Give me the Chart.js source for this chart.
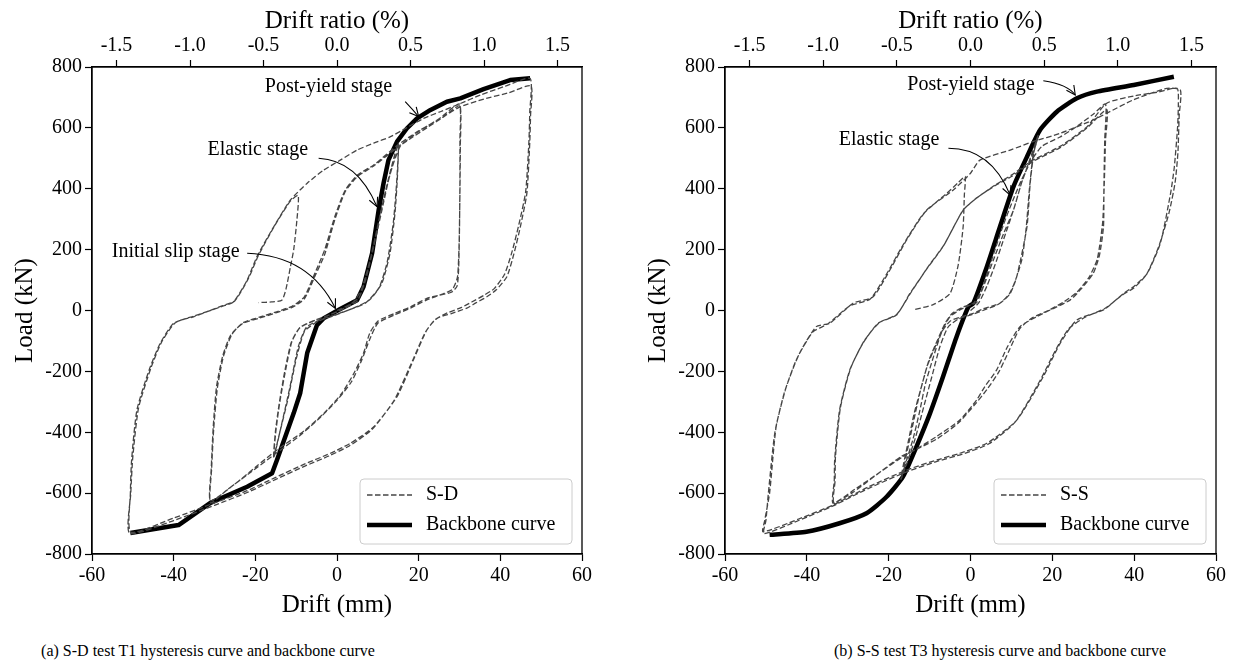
<!DOCTYPE html>
<html>
<head>
<meta charset="utf-8">
<title>Hysteresis and backbone curves</title>
<script src="https://cdn.jsdelivr.net/npm/chart.js@4.4.1/dist/chart.umd.min.js"></script>
<style>
  html, body { margin: 0; padding: 0; background: #fff; overflow: hidden; }
  #fig { position: relative; width: 1235px; height: 666px; }
  .panel { position: absolute; top: 0; }
  .caption { position: absolute; top: 642px; line-height: 18px; font-size: 16px;
             font-family: 'Liberation Serif', 'Times New Roman', serif;
             white-space: nowrap; transform: translateX(-50%); }
</style>
</head>
<body>
<div id="fig">
  <canvas id="chart-sd" class="panel" width="617" height="625" style="left:0px"></canvas>
  <canvas id="chart-ss" class="panel" width="602" height="625" style="left:633px"></canvas>
  <div class="caption" style="left:208px">(a) S-D test T1 hysteresis curve and backbone curve</div>
  <div class="caption" style="left:1000px">(b) S-S test T3 hysteresis curve and backbone curve</div>
</div>
<script>
// axis ticks
const driftTicks = [-60, -40, -20, 0, 20, 40, 60];
const loadTicks = [-800, -600, -400, -200, 0, 200, 400, 600, 800];
const ratioTicks = [-1.5, -1.0, -0.5, 0.0, 0.5, 1.0, 1.5];
const storyHeight = 3600; // mm, drift ratio = drift / height

// S-D test T1: [drift (mm), load (kN)] in loading order
const sdHysteresis = [
  // first push to +15 mm
  [0, 0], [2, 12], [4, 28], [6, 70], [8, 160], [10, 280], [12, 400], [13.5, 480], [15, 550],
  // +15 -> -15.5
  [14.8, 440], [14.2, 320], [13, 190], [11, 90], [8, 35], [4, 8], [0, -12], [-4, -30], [-7.5, -55],
  [-9.5, -120], [-11.5, -250], [-13.5, -370], [-15.5, -485],
  // -15.5 -> +15
  [-15, -400], [-14, -300], [-12.5, -190], [-11, -100], [-9, -55], [-6, -35], [-2, -15], [2, 8], [5, 32],
  [7, 100], [9, 210], [11, 330], [13, 450], [15, 545],
  // +15 -> -15.5
  [14.6, 420], [13.8, 290], [12.3, 160], [10.3, 75], [7, 25], [3, 2], [-1, -18], [-5, -38], [-8, -70],
  [-10, -160], [-12, -290], [-14, -400], [-15.5, -478],
  // -15.5 -> +30
  [-15.1, -400], [-14.2, -310], [-12.8, -200], [-11.2, -105], [-9.2, -58], [-5, -30], [0, -5], [3, 18],
  [5.5, 45], [7.5, 130], [9.5, 250], [11.5, 370], [13.5, 470], [15.5, 540], [18, 565], [22, 600],
  [26, 635], [30, 672],
  // +30 -> -31
  [30.1, 560], [30.1, 420], [30, 270], [29.8, 140], [29.4, 80], [28, 60], [25, 50], [22, 40], [18, 12],
  [14, -10], [10, -35], [8, -75], [6.5, -140], [4, -210], [1, -275], [-3, -335], [-8, -395],
  [-14.7, -458], [-20, -515], [-25, -570], [-31, -625],
  // -31 -> +30
  [-30.8, -520], [-30.3, -380], [-29.5, -250], [-28, -150], [-26, -80], [-23, -42], [-19, -25],
  [-15, -8], [-11, 10], [-8, 38], [-5.5, 110], [-3, 185], [-0.5, 300], [2, 390], [5, 440], [9, 475],
  [15, 538], [20, 588], [25, 630], [30, 678],
  // +30 -> -31
  [30.2, 540], [30.1, 380], [29.9, 220], [29.5, 110], [28.3, 70], [26, 55], [22, 35], [18, 8], [14, -15],
  [10, -42], [8, -95], [6, -165], [3.5, -235], [0, -295], [-4, -350], [-9, -410], [-15, -470],
  [-22, -540], [-27, -590], [-31, -632],
  // -31 -> +47.5
  [-30.7, -520], [-30.2, -390], [-29.3, -255], [-27.8, -150], [-25.7, -78], [-23, -40], [-19, -22],
  [-15, -5], [-11, 14], [-8, 45], [-5.5, 120], [-3, 200], [-0.5, 310], [2, 395], [5, 445], [9, 478],
  [15, 545], [20, 590], [25, 628], [30, 668], [36, 695], [42, 715], [47.5, 738],
  // +47.5 -> -50.5
  [47.4, 640], [47.2, 549], [46.5, 385], [44.9, 275], [43.3, 185], [41.6, 111], [39, 68], [36.7, 45],
  [34, 25], [31.8, 8], [28, -10], [24.5, -26], [22, -64], [18.7, -163], [14.7, -283], [9, -382],
  [3.3, -436], [-1.6, -469], [-8, -505], [-15, -548], [-22, -592], [-30, -632], [-40, -682], [-50.5, -728],
  // -50.5 -> +47.5
  [-50.6, -600], [-50.3, -491], [-49, -327], [-46, -195], [-43.3, -108], [-40, -42], [-35, -20],
  [-31.8, -4], [-28, 14], [-25.3, 29], [-22, 100], [-19.6, 177], [-15.5, 275], [-11.4, 363],
  [-7.3, 418], [-3.3, 461], [0.8, 494], [4.9, 527], [9, 550], [13.1, 571], [17, 600], [21.2, 631],
  [25.3, 653], [30.2, 680], [35.1, 708], [40.8, 735], [47.3, 762],
  // +47.5 -> -50.8
  [47.2, 650], [47, 555], [46.2, 390], [44.5, 280], [42.8, 190], [41, 118], [38.5, 72], [36, 50],
  [33, 28], [30.5, 10], [27, -8], [24, -30], [21.5, -75], [18, -180], [14, -295], [8.5, -392],
  [3, -445], [-2, -478], [-8, -512], [-15, -555], [-22, -598], [-30, -640], [-40, -690], [-50.8, -732],
  // -50.8 -> -9.5, then unloading
  [-50.5, -600], [-50, -480], [-48.6, -320], [-45.6, -190], [-43, -105], [-39.6, -40], [-35, -18],
  [-31.5, -2], [-28, 16], [-25, 32], [-21.7, 105], [-19.2, 182], [-15.2, 280], [-11.4, 360],
  [-9.5, 378], [-9.8, 300], [-10.6, 200], [-11.4, 144], [-12.5, 70], [-13.5, 34], [-16, 28], [-19.2, 26]
];

const sdBackbone = [
  [-50.6, -731], [-38.8, -705], [-31, -632], [-22, -579], [-15.9, -535], [-14.7, -491], [-10.6, -337],
  [-9, -271], [-7.3, -140], [-4.9, -48], [-3.3, -26], [0.8, 5], [4.9, 34], [6.5, 78], [8.6, 188],
  [10.2, 330], [11.4, 418], [12.6, 494], [14.7, 555], [17.1, 598], [19.6, 631], [22.9, 659],
  [26.9, 686], [30.2, 697], [35.9, 727], [42.4, 757], [47.3, 763]
];

// S-S test T3: [drift (mm), load (kN)] in loading order
const ssHysteresis = [
  // first push to +16.5 mm
  [0, 0], [2, 25], [4, 80], [6, 150], [8, 230], [10.5, 330], [12.5, 420], [14.6, 500], [16.5, 575],
  // +16.5 -> -16.8
  [15.5, 520], [14.6, 420], [13.8, 275], [11.3, 111], [9.7, 56], [7.2, 24], [3, 5], [0.7, -9],
  [-2.5, -22], [-5, -35], [-7, -70], [-9, -150], [-11, -240], [-12.4, -330], [-14, -420],
  [-15.6, -491], [-16.8, -546],
  // -16.8 -> +16.5
  [-16.3, -520], [-15.6, -470], [-14, -370], [-12.4, -272], [-10.5, -180], [-8.3, -108], [-6.5, -55],
  [-5, -20], [-2.6, 2], [0, 18], [1.5, 26], [3.5, 90], [5.6, 166], [8, 250], [10.5, 330], [12.5, 420],
  [14.6, 494], [16, 545], [16.5, 570],
  // +16.5 -> -17
  [15.3, 510], [14.4, 400], [13.6, 270], [12.6, 170], [11, 100], [9.5, 55], [7, 22], [4, 5], [0.7, -12],
  [-3, -28], [-5.5, -55], [-7.5, -120], [-9.5, -220], [-11.5, -320], [-13.5, -420], [-15.5, -500],
  [-17, -555],
  // -17 -> +33
  [-16.3, -500], [-15.2, -430], [-13.8, -340], [-12, -250], [-10.2, -165], [-8, -95], [-6.2, -42],
  [-4.5, -10], [-2, 10], [0.7, 24], [2.5, 60], [4, 120], [6, 200], [8, 280], [10, 350], [12.5, 430],
  [15, 495], [17.5, 540], [21.9, 570], [26, 605], [30, 645], [33, 678],
  // +33 -> -33.6
  [32.8, 560], [32.6, 400], [32.5, 275], [31.5, 180], [30, 122], [27, 70], [24.4, 35], [20, 5],
  [16.2, -20], [12.1, -53], [9, -120], [6.4, -195], [3.5, -250], [1.5, -294], [-2.6, -360],
  [-8.3, -414], [-12, -445], [-16.5, -480], [-22, -530], [-28, -585], [-33.6, -633],
  // -33.6 -> +33
  [-33.3, -560], [-33.2, -491], [-32, -327], [-29.5, -195], [-26.3, -108], [-22.6, -42], [-18.1, -15],
  [-14.8, 56], [-10.5, 140], [-6.7, 210], [-3.5, 290], [-1.8, 330], [1.5, 370], [6, 410], [10, 440],
  [15.3, 490], [21.9, 535], [28.5, 600], [33.3, 660],
  // +33 -> -33.4
  [33, 560], [32.7, 420], [32.3, 290], [31, 170], [29, 110], [26, 60], [23, 30], [19, 0], [15, -25],
  [12, -60], [9.5, -130], [7, -200], [4, -260], [1, -310], [-3, -370], [-8, -420], [-13, -455],
  [-17, -480], [-23, -540], [-29, -600], [-33.4, -630],
  // -33.4 -> +50.5
  [-33.1, -560], [-33, -480], [-31.8, -320], [-29.3, -190], [-26, -100], [-22.3, -40], [-18, -12],
  [-14.5, 60], [-10.3, 145], [-6.5, 215], [-3.3, 295], [-1.5, 335], [1.8, 372], [6, 412], [10, 445],
  [15, 492], [22, 540], [28.5, 604], [33.3, 681], [40, 705], [46, 718], [50.5, 730],
  // +50.5 -> -50.7
  [50.8, 680], [50.6, 600], [49.8, 470], [48.9, 385], [46.4, 221], [43.2, 122], [40, 80], [37.4, 56],
  [32.5, 2], [26, -31], [21.9, -108], [17.8, -217], [11.3, -360], [4, -436], [-2.6, -469], [-8, -490],
  [-15.6, -524], [-25, -580], [-33.6, -639], [-42, -685], [-50.7, -727],
  // -50.7 -> +51.3
  [-50.3, -690], [-49.1, -600], [-47.5, -382], [-45, -250], [-41.8, -141], [-37.7, -53], [-34.4, -42],
  [-28.7, 24], [-23.8, 45], [-19.7, 133], [-15.6, 232], [-10.7, 330], [-4.2, 396], [0, 451],
  [2.3, 494], [9.7, 527], [15.3, 555], [21.9, 582], [30, 626], [33.3, 648], [39.8, 692], [48, 730],
  [51.3, 724],
  // +51.3 -> -50.5
  [51, 640], [50.7, 520], [50, 420], [48.5, 320], [46, 210], [43, 118], [40, 75], [37, 50], [33, 8],
  [28, -22], [24, -60], [21, -125], [17, -230], [11, -365], [4.5, -438], [-2, -472], [-8, -495],
  [-15.6, -530], [-25, -585], [-33.6, -642], [-42, -690], [-50.5, -733],
  // -50.5 -> -1.3, then unloading
  [-50, -690], [-49.4, -600], [-47.8, -400], [-45.5, -270], [-42.5, -160], [-38.5, -70], [-35, -45],
  [-29.5, 15], [-24.5, 38], [-20.5, 120], [-16.5, 215], [-11.5, 318], [-5.8, 385], [-3, 420],
  [-1.3, 440], [-1.5, 380], [-1.8, 275], [-3, 150], [-5, 56], [-9, 20], [-14, 2]
];

const ssBackbone = [
  [-49.1, -737], [-40.1, -727], [-32, -699], [-25.4, -666], [-20.5, -612], [-16.5, -546],
  [-13.2, -447], [-9.9, -338], [-6.7, -217], [-3.4, -86], [-0.5, 12], [0.7, 24], [4, 144], [7.2, 275],
  [10.5, 407], [13.8, 505], [17, 593], [21.1, 653], [26, 697], [30.9, 719], [39.9, 741], [49.7, 768]
];

// stage labels: text centre, arrow start, bend, tip (drift, load)
const sdNotes = [
  { text: 'Post-yield stage', at: [-2.1, 734], from: [16.7, 686], via: [18.4, 662], to: [20, 637] },
  { text: 'Elastic stage', at: [-19.4, 527], from: [-4.5, 500], via: [4.9, 494], to: [9.8, 341] },
  { text: 'Initial slip stage', at: [-39.5, 192], from: [-22, 188], via: [-6.7, 180], to: [-0.4, 7] }
];
const ssNotes = [
  { text: 'Post-yield stage', at: [0.1, 741], from: [17.8, 755], via: [23.8, 743], to: [25.6, 708] },
  { text: 'Elastic stage', at: [-19.9, 560], from: [-5.4, 533], via: [5.0, 533], to: [9.7, 379] }
];

const FONT = "'Liberation Serif', 'Times New Roman', serif";
Chart.defaults.font.family = FONT;
Chart.defaults.color = '#000';
const serif = size => ({ family: FONT, size: size });

const framePlugin = {
  id: 'frame',
  afterDatasetsDraw(chart) {
    const { ctx, chartArea: a } = chart;
    ctx.save();
    ctx.strokeStyle = '#000';
    ctx.lineWidth = 1.3;
    ctx.strokeRect(a.left, a.top, a.right - a.left, a.bottom - a.top);
    ctx.restore();
  }
};

const notesPlugin = {
  id: 'notes',
  afterDatasetsDraw(chart, args, opts) {
    const { ctx } = chart;
    const xs = chart.scales.x, ys = chart.scales.y;
    const P = p => [xs.getPixelForValue(p[0]), ys.getPixelForValue(p[1])];
    ctx.save();
    (opts.items || []).forEach(n => {
      const [tx, ty] = P(n.at);
      ctx.font = `20px ${FONT}`;
      ctx.fillStyle = '#000';
      ctx.textAlign = 'center';
      ctx.textBaseline = 'middle';
      ctx.fillText(n.text, tx, ty);

      const [x0, y0] = P(n.from), [cx, cy] = P(n.via), [x1, y1] = P(n.to);
      ctx.strokeStyle = '#000';
      ctx.lineWidth = 1.1;
      ctx.beginPath();
      ctx.moveTo(x0, y0);
      ctx.quadraticCurveTo(cx, cy, x1, y1);
      ctx.stroke();
      // open arrow head
      let dx = x1 - cx, dy = y1 - cy;
      const len = Math.hypot(dx, dy) || 1;
      dx /= len; dy /= len;
      const hl = 9, hw = 4.5;
      ctx.beginPath();
      ctx.moveTo(x1 - dx * hl - dy * hw, y1 - dy * hl + dx * hw);
      ctx.lineTo(x1, y1);
      ctx.lineTo(x1 - dx * hl + dy * hw, y1 - dy * hl - dx * hw);
      ctx.stroke();
    });
    ctx.restore();
  }
};

const boxLegendPlugin = {
  id: 'boxLegend',
  afterDraw(chart) {
    const { ctx, chartArea: a } = chart;
    const w = 212, h = 65, r = 4;
    const x = a.right - 10 - w, y = a.bottom - 10 - h;
    ctx.save();
    ctx.beginPath();
    ctx.roundRect(x, y, w, h, r);
    ctx.fillStyle = 'rgba(255,255,255,0.85)';
    ctx.fill();
    ctx.strokeStyle = '#cccccc';
    ctx.lineWidth = 1;
    ctx.stroke();
    chart.data.datasets.forEach((ds, i) => {
      const ry = y + 16 + i * 30;
      ctx.beginPath();
      ctx.setLineDash(ds.borderDash || []);
      ctx.lineWidth = ds.borderWidth;
      ctx.strokeStyle = ds.borderColor;
      ctx.moveTo(x + 7, ry);
      ctx.lineTo(x + 52, ry);
      ctx.stroke();
      ctx.setLineDash([]);
      ctx.fillStyle = '#000';
      ctx.font = `20px ${FONT}`;
      ctx.textAlign = 'left';
      ctx.textBaseline = 'middle';
      ctx.fillText(ds.label, x + 66, ry);
    });
    ctx.restore();
  }
};

const toPoints = arr => arr.map(([x, y]) => ({ x, y }));
const setTicks = values => scale => { scale.ticks = values.map(v => ({ value: v })); };

function axisLook(extra) {
  return Object.assign({
    type: 'linear',
    display: true,
    grid: { display: true, drawOnChartArea: false, drawTicks: true, tickLength: 7, tickWidth: 1.2, tickColor: '#000' },
    border: { display: true, color: '#000', width: 1.3 },
  }, extra);
}

function drawPanel(canvasId, loopData, backboneData, seriesName, notes, rightPad, backboneTension) {
  const ratioLimit = 60 / storyHeight * 100;
  return new Chart(document.getElementById(canvasId), {
    type: 'line',
    data: {
      datasets: [
        {
          label: seriesName,
          data: toPoints(loopData),
          borderColor: '#454545',
          borderWidth: 1.3,
          borderDash: [5.5, 2.5],
          pointRadius: 0,
          tension: 0.2,
          fill: false
        },
        {
          label: 'Backbone curve',
          data: toPoints(backboneData),
          borderColor: '#000',
          borderWidth: 4.5,
          borderJoinStyle: 'round',
          pointRadius: 0,
          tension: backboneTension,
          fill: false
        }
      ]
    },
    options: {
      responsive: false,
      animation: false,
      font: serif(20),
      layout: { padding: { left: 0, top: 0, right: rightPad, bottom: 0 } },
      plugins: {
        legend: { display: false },
        tooltip: { enabled: false },
        notes: { items: notes }
      },
      scales: {
        x: axisLook({
          position: 'bottom', min: -60, max: 60,
          afterBuildTicks: setTicks(driftTicks),
          afterFit: s => { s.height = 71; },
          ticks: { font: serif(20), color: '#000', padding: 3, autoSkip: false, maxRotation: 0, callback: v => String(v) },
          title: { display: true, text: 'Drift (mm)', color: '#000', font: serif(25), padding: { top: 0, bottom: 5 } }
        }),
        x2: axisLook({
          position: 'top', min: -ratioLimit, max: ratioLimit,
          afterBuildTicks: setTicks(ratioTicks),
          afterFit: s => { s.height = 67; },
          ticks: { font: serif(20), color: '#000', padding: 2, autoSkip: false, maxRotation: 0, callback: v => v.toFixed(1) },
          title: { display: true, text: 'Drift ratio (%)', color: '#000', font: serif(25), padding: { top: 6, bottom: 0 } }
        }),
        y: axisLook({
          position: 'left', min: -800, max: 800,
          afterBuildTicks: setTicks(loadTicks),
          afterFit: s => { s.width = 92; },
          ticks: { font: serif(20), color: '#000', padding: 3, autoSkip: false, callback: v => String(v) },
          title: { display: true, text: 'Load (kN)', color: '#000', font: serif(25), padding: { top: 10, bottom: 0 } }
        })
      }
    },
    plugins: [framePlugin, notesPlugin, boxLegendPlugin]
  });
}

drawPanel('chart-sd', sdHysteresis, sdBackbone, 'S-D', sdNotes, 35, 0);
drawPanel('chart-ss', ssHysteresis, ssBackbone, 'S-S', ssNotes, 19, 0.2);
</script>
</body>
</html>
